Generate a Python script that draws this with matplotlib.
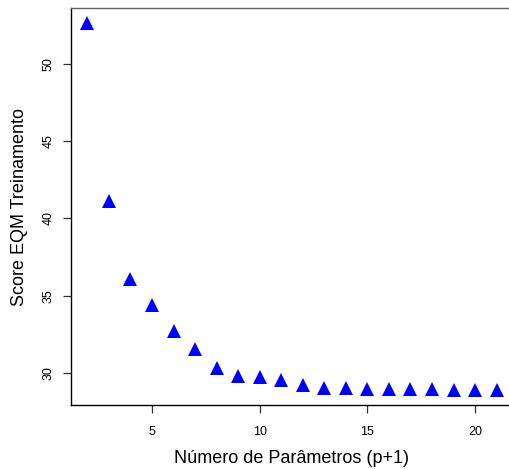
import matplotlib
matplotlib.use("Agg")
import matplotlib.pyplot as plt

n_params = list(range(2, 22))
score_eqm = [52.65, 41.13, 36.08, 34.4, 32.72, 31.55, 30.32, 29.8, 29.74, 29.55,
             29.22, 29.05, 29.02, 29.0, 29.0, 29.0, 29.0, 28.92, 28.9, 28.9]
x_ticks = [5, 10, 15, 20]
y_ticks = [30, 35, 40, 45, 50]

plt.rcParams['font.family'] = ['Liberation Sans', 'DejaVu Sans']

W, H = 510, 469
fig = plt.figure(figsize=(W/100, H/100), dpi=100)
left, right, top, bottom = 71, 513, 8, 405
ax = fig.add_axes([left/W, 1 - bottom/H, (right-left)/W, (bottom-top)/H])

ax.plot(n_params, score_eqm, linestyle='none', marker='^', markersize=9.5,
        color='#0000ff', markeredgewidth=0)

xmin, xmax = min(n_params), max(n_params)
dx = (xmax - xmin) * 0.04
ymin, ymax = min(score_eqm), max(score_eqm)
dy = (ymax - ymin) * 0.04
ax.set_xlim(xmin - dx, xmax + dx)
ax.set_ylim(ymin - dy, ymax + dy)

ax.set_xticks(x_ticks)
ax.set_yticks(y_ticks)
ax.set_yticklabels([str(v) for v in y_ticks], rotation=90, va='center')
ax.tick_params(direction='out', length=6, width=0.9, labelsize=9, color='#333333')
ax.tick_params(axis='x', pad=9)
ax.tick_params(axis='y', pad=6)
for s in ax.spines.values():
    s.set_linewidth(1.0)
    s.set_color('black')
ax.spines['top'].set_color('#666666')
ax.spines['right'].set_visible(False)

ax.set_xlabel('Número de Parâmetros (p+1)', fontsize=13, labelpad=9)
ax.set_ylabel('Score EQM Treinamento', fontsize=13, labelpad=10)

fig.savefig('out.png', dpi=100)
